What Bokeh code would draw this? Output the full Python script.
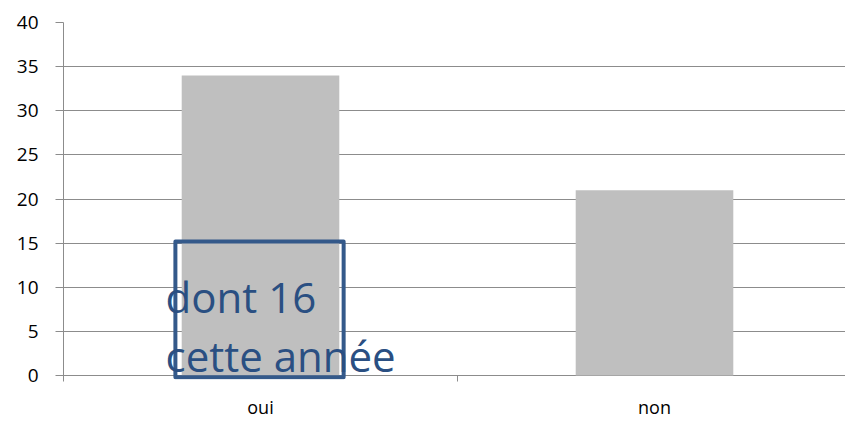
from bokeh.plotting import figure
from bokeh.models import FixedTicker, Range1d, ColumnDataSource
from bokeh.core.properties import value
from bokeh.embed import file_html
from bokeh.resources import INLINE

categories = ["oui", "non"]
values = [34, 21]
y_ticks = [0, 5, 10, 15, 20, 25, 30, 35, 40]

# highlighted sub-box on "oui"
box_left, box_right = 0.284, 0.711
box_bottom, box_top = -0.2, 15.2
note_lines = ["dont 16", "cette année"]
note_x = 0.259
note_y = [8.9, 2.25]

FONT = "Open Sans"
GRID = "#8c8c8c"

p = figure(width=845, height=421, output_backend="svg", toolbar_location=None,
           x_range=Range1d(0, 782 / 394), y_range=Range1d(-0.45, 40),
           min_border_left=63, min_border_right=0, min_border_top=22, min_border_bottom=40)
p.outline_line_color = None
p.background_fill_color = "white"

centers = [i + 0.5 for i in range(len(categories))]
src = ColumnDataSource(dict(x=centers, top=values))
p.vbar(x="x", top="top", width=0.4, bottom=0, source=src, fill_color="#bfbfbf", line_color=None)

p.quad(left=[box_left], right=[box_right], bottom=[box_bottom], top=[box_top],
       fill_color=None, line_color="#34598a", line_width=4, line_join="round")

p.text(x=[note_x] * 2, y=note_y, text=note_lines, text_font=value(FONT),
       text_font_size="42px", text_color="#2a4f82", text_baseline="alphabetic", text_align="left")

# axes
p.yaxis.ticker = FixedTicker(ticks=y_ticks)
p.yaxis.major_tick_in = 0
p.yaxis.major_tick_out = 8
p.yaxis.minor_tick_line_color = None
p.yaxis.axis_line_color = GRID
p.yaxis.major_tick_line_color = GRID
p.yaxis.major_label_text_font = FONT
p.yaxis.major_label_text_font_size = "19px"
p.yaxis.major_label_text_color = "black"
p.yaxis.major_label_standoff = 17

p.xaxis.ticker = FixedTicker(ticks=centers, minor_ticks=[0, 1, 2])
p.xaxis.major_label_overrides = {c: lab for c, lab in zip(centers, categories)}
p.xaxis.major_tick_line_color = None
p.xaxis.major_tick_in = 0
p.xaxis.major_tick_out = 2
p.xaxis.minor_tick_line_color = GRID
p.xaxis.minor_tick_in = 4
p.xaxis.minor_tick_out = 2
p.xaxis.axis_line_color = None
p.xaxis.major_label_text_font = FONT
p.xaxis.major_label_text_font_size = "18px"
p.xaxis.major_label_text_color = "black"
p.xaxis.major_label_standoff = 13

p.xgrid.grid_line_color = None
p.ygrid.ticker = FixedTicker(ticks=y_ticks)
p.ygrid.grid_line_color = GRID
p.ygrid.grid_line_width = 1

open("out.html", "w").write(file_html(p, INLINE))
